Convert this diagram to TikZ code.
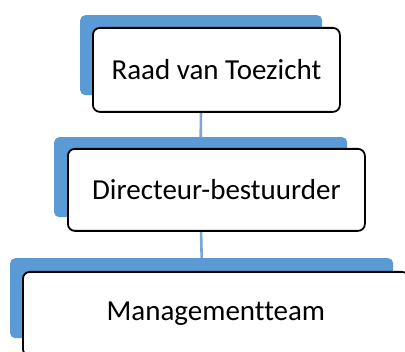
\documentclass[tikz,border=0pt]{standalone}
\usepackage{fontspec}
\setmainfont{Carlito}[Ligatures=NoCommon]
\definecolor{accblue}{HTML}{5B9BD5}
\definecolor{linkblue}{HTML}{7AA7DA}
\begin{document}
\begin{tikzpicture}[x=1pt,y=-1pt,
  backbox/.style={fill=accblue, draw=none, rounded corners=5pt, inner sep=0pt, anchor=north west},
  frontbox/.style={fill=white, draw=black, line width=1.8pt, rounded corners=7pt, inner sep=0pt, anchor=north west},
  label/.style={font=\fontsize{29}{34}\selectfont, inner sep=0pt},
  link/.style={draw=linkblue, line width=2.6pt}]
\useasboundingbox (0,0) rectangle (405,352);
% back (blue) rectangles
\node[backbox, minimum width=242pt, minimum height=80pt] (b1) at (80,15) {};
\node[backbox, minimum width=293pt, minimum height=80pt] (b2) at (54,137) {};
\node[backbox, minimum width=383pt, minimum height=80pt] (b3) at (10,258) {};
% connectors
\draw[link] (b1.south) -- (b2.north);
\draw[link] (b2.south) -- (b3.north);
% front boxes
\node[frontbox, minimum width=247pt, minimum height=84pt] (f1) at (92,27) {};
\node[label] at (f1.center) (t1) {Raad van Toezicht};
\node[frontbox, minimum width=297pt, minimum height=82pt] (f2) at (67,148) {};
\node[label] at (f2.center) (t2) {Directeur-bestuurder};
\node[frontbox, minimum width=386pt, minimum height=84pt] (f3) at (22,271) {};
\node[label] at (f3.center) (t3) {Managementteam};
\end{tikzpicture}
\end{document}
